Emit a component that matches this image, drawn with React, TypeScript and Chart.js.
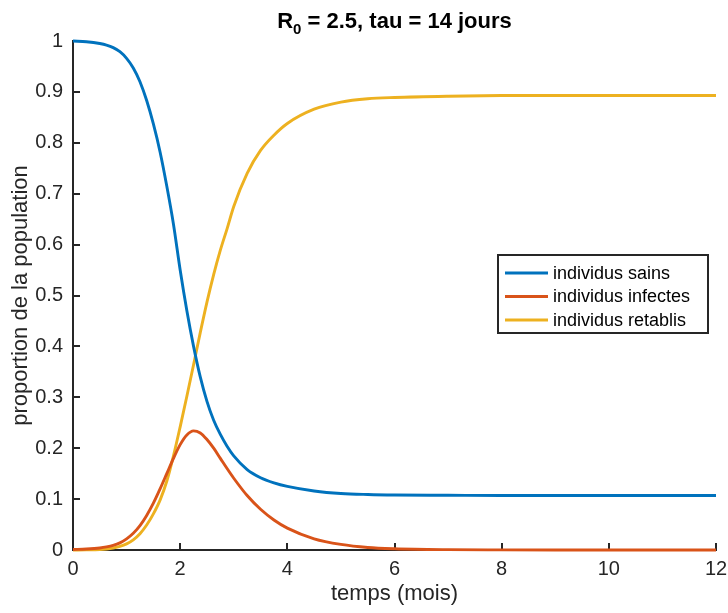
import React, { useEffect, useRef } from "react";
import { Chart, registerables } from "chart.js";

Chart.register(...registerables);

// ---- Data ----
const TIME_MONTHS = [0, 0.25, 0.5, 0.625, 0.75, 0.875, 1, 1.125, 1.25, 1.375, 1.5, 1.625, 1.75, 1.875, 2, 2.125, 2.25, 2.375, 2.5, 2.625, 2.75, 2.875, 3, 3.25, 3.5, 3.75, 4, 4.5, 5, 5.5, 6, 7, 8, 9, 10, 11, 12];
const SAINS = [1.0, 0.9985, 0.995, 0.992, 0.987, 0.979, 0.966, 0.947, 0.92, 0.883, 0.837, 0.782, 0.715, 0.64, 0.55, 0.47, 0.4, 0.34, 0.292, 0.255, 0.227, 0.204, 0.185, 0.158, 0.142, 0.132, 0.125, 0.116, 0.111, 0.109, 0.108, 0.1075, 0.107, 0.107, 0.107, 0.107, 0.107];
const INFECTES = [0.001, 0.002, 0.004, 0.006, 0.009, 0.014, 0.022, 0.033, 0.048, 0.068, 0.092, 0.12, 0.15, 0.18, 0.207, 0.226, 0.234, 0.23, 0.217, 0.2, 0.18, 0.16, 0.141, 0.107, 0.08, 0.059, 0.043, 0.022, 0.011, 0.005, 0.0025, 0.0007, 0.0002, 0, 0, 0, 0];
const RETABLIS = [0, 0.0003, 0.001, 0.002, 0.004, 0.007, 0.012, 0.02, 0.032, 0.049, 0.071, 0.098, 0.135, 0.185, 0.242, 0.302, 0.364, 0.427, 0.487, 0.541, 0.589, 0.631, 0.675, 0.74, 0.785, 0.815, 0.838, 0.866, 0.88, 0.8865, 0.889, 0.8915, 0.8928, 0.893, 0.893, 0.893, 0.893];

const SERIES_NAMES = ["individus sains", "individus infectes", "individus retablis"];
const X_TICKS = [0, 2, 4, 6, 8, 10, 12];
const X_TICK_LABELS = ["0", "2", "4", "6", "8", "10", "12"];
const Y_TICKS = [0, 0.1, 0.2, 0.3, 0.4, 0.5, 0.6, 0.7, 0.8, 0.9, 1];
const Y_TICK_LABELS = ["0", "0.1", "0.2", "0.3", "0.4", "0.5", "0.6", "0.7", "0.8", "0.9", "1"];
const TITLE_MAIN = "R";
const TITLE_SUB = "0";
const TITLE_REST = " = 2.5, tau = 14 jours";
const X_LABEL = "temps (mois)";
const Y_LABEL = "proportion de la population";

// ---- Styles ----
const FONT = "'Liberation Sans', Arial, Helvetica, sans-serif";
const COLORS = ["#0072BD", "#D95319", "#EDB120"];
const AXIS_COLOR = "#262626";
const LINE_W = 2.9;

const decorPlugin = {
  id: "decor",
  beforeDatasetsDraw(chart: any) {
    const { ctx, chartArea, scales } = chart;
    ctx.save();
    ctx.strokeStyle = AXIS_COLOR;
    ctx.lineWidth = 2;
    const tl = 7;
    X_TICKS.forEach((v) => {
      const px = Math.round(scales.x.getPixelForValue(v));
      ctx.beginPath();
      ctx.moveTo(px, chartArea.bottom);
      ctx.lineTo(px, chartArea.bottom - tl);
      ctx.stroke();
    });
    Y_TICKS.forEach((v) => {
      const py = Math.round(scales.y.getPixelForValue(v));
      ctx.beginPath();
      ctx.moveTo(chartArea.left, py);
      ctx.lineTo(chartArea.left + tl, py);
      ctx.stroke();
    });
    ctx.restore();
  },
  afterDraw(chart: any) {
    const { ctx, chartArea } = chart;
    ctx.save();
    const cx = (chartArea.left + chartArea.right) / 2;

    // Title with subscript
    const bigFont = `bold 22px ${FONT}`;
    const subFont = `bold 15px ${FONT}`;
    ctx.font = bigFont;
    const wR = ctx.measureText(TITLE_MAIN).width;
    const wRest = ctx.measureText(TITLE_REST).width;
    ctx.font = subFont;
    const wSub = ctx.measureText(TITLE_SUB).width;
    const total = wR + wSub + wRest;
    let x = cx - total / 2;
    const base = 28;
    ctx.fillStyle = "#000";
    ctx.textBaseline = "alphabetic";
    ctx.textAlign = "left";
    ctx.font = bigFont;
    ctx.fillText(TITLE_MAIN, x, base);
    x += wR;
    ctx.font = subFont;
    ctx.fillText(TITLE_SUB, x, base + 6);
    x += wSub;
    ctx.font = bigFont;
    ctx.fillText(TITLE_REST, x, base);

    // Axis labels
    ctx.font = `22px ${FONT}`;
    ctx.fillStyle = AXIS_COLOR;
    ctx.textAlign = "center";
    ctx.textBaseline = "middle";
    ctx.fillText(X_LABEL, cx, 594);
    ctx.save();
    ctx.translate(21, (chartArea.top + chartArea.bottom) / 2);
    ctx.rotate(-Math.PI / 2);
    ctx.fillText(Y_LABEL, 0, 0);
    ctx.restore();

    // Legend box
    const bx = chartArea.right - 218;
    const by = 255;
    const bw = 210;
    const bh = 78;
    ctx.fillStyle = "#fff";
    ctx.fillRect(bx, by, bw, bh);
    ctx.strokeStyle = AXIS_COLOR;
    ctx.lineWidth = 2;
    ctx.strokeRect(bx, by, bw, bh);
    ctx.font = `18px ${FONT}`;
    ctx.textAlign = "left";
    ctx.textBaseline = "middle";
    SERIES_NAMES.forEach((name, i) => {
      const ry = by + 18 + i * 23.5;
      ctx.strokeStyle = COLORS[i];
      ctx.lineWidth = LINE_W;
      ctx.beginPath();
      ctx.moveTo(bx + 7, ry);
      ctx.lineTo(bx + 50, ry);
      ctx.stroke();
      ctx.fillStyle = "#000";
      ctx.fillText(name, bx + 55, ry + 1);
    });
    ctx.restore();
  },
};

export default function App() {
  const ref = useRef<HTMLCanvasElement | null>(null);
  useEffect(() => {
    document.body.style.margin = "0";
    const series = [SAINS, INFECTES, RETABLIS];
    const chart = new Chart(ref.current as HTMLCanvasElement, {
      type: "line",
      data: {
        datasets: series.map((vals, i) => ({
          label: SERIES_NAMES[i],
          data: TIME_MONTHS.map((t, k) => ({ x: t, y: vals[k] })),
          borderColor: COLORS[i],
          backgroundColor: COLORS[i],
          borderWidth: LINE_W,
          pointRadius: 0,
          fill: false,
          cubicInterpolationMode: "monotone" as const,
          clip: 4,
        })),
      },
      options: {
        responsive: false,
        animation: false,
        events: [],
        layout: { padding: { top: 41, right: 12, left: 0, bottom: 0 } },
        plugins: {
          legend: { display: false },
          title: { display: false },
          tooltip: { enabled: false },
        },
        scales: {
          x: {
            type: "linear",
            min: 0,
            max: 12,
            afterBuildTicks: (s: any) => {
              s.ticks = X_TICKS.map((v) => ({ value: v }));
            },
            afterFit: (s: any) => {
              s.height = 63;
              s.paddingLeft = 0;
              s.paddingRight = 0;
            },
            ticks: {
              autoSkip: false,
              maxRotation: 0,
              padding: 7,
              color: AXIS_COLOR,
              font: { family: FONT, size: 20 },
              callback: (v: any) => X_TICK_LABELS[X_TICKS.indexOf(Number(v))] ?? "",
            },
            grid: { display: false, drawTicks: false },
            border: { display: true, color: AXIS_COLOR, width: 2 },
          },
          y: {
            type: "linear",
            min: 0,
            max: 1,
            afterBuildTicks: (s: any) => {
              s.ticks = Y_TICKS.map((v) => ({ value: v }));
            },
            afterFit: (s: any) => {
              s.width = 73;
              s.paddingTop = 0;
              s.paddingBottom = 0;
            },
            ticks: {
              autoSkip: false,
              padding: 10,
              color: AXIS_COLOR,
              font: { family: FONT, size: 20 },
              callback: (v: any) => {
                const idx = Y_TICKS.findIndex((t) => Math.abs(t - Number(v)) < 1e-6);
                return idx >= 0 ? Y_TICK_LABELS[idx] : "";
              },
            },
            grid: { display: false, drawTicks: false },
            border: { display: true, color: AXIS_COLOR, width: 2 },
          },
        },
      },
      plugins: [decorPlugin],
    } as any);
    return () => chart.destroy();
  }, []);
  return (
    <div style={{ width: 728, height: 613 }}>
      <canvas ref={ref} width={728} height={613} style={{ display: "block" }} />
    </div>
  );
}
